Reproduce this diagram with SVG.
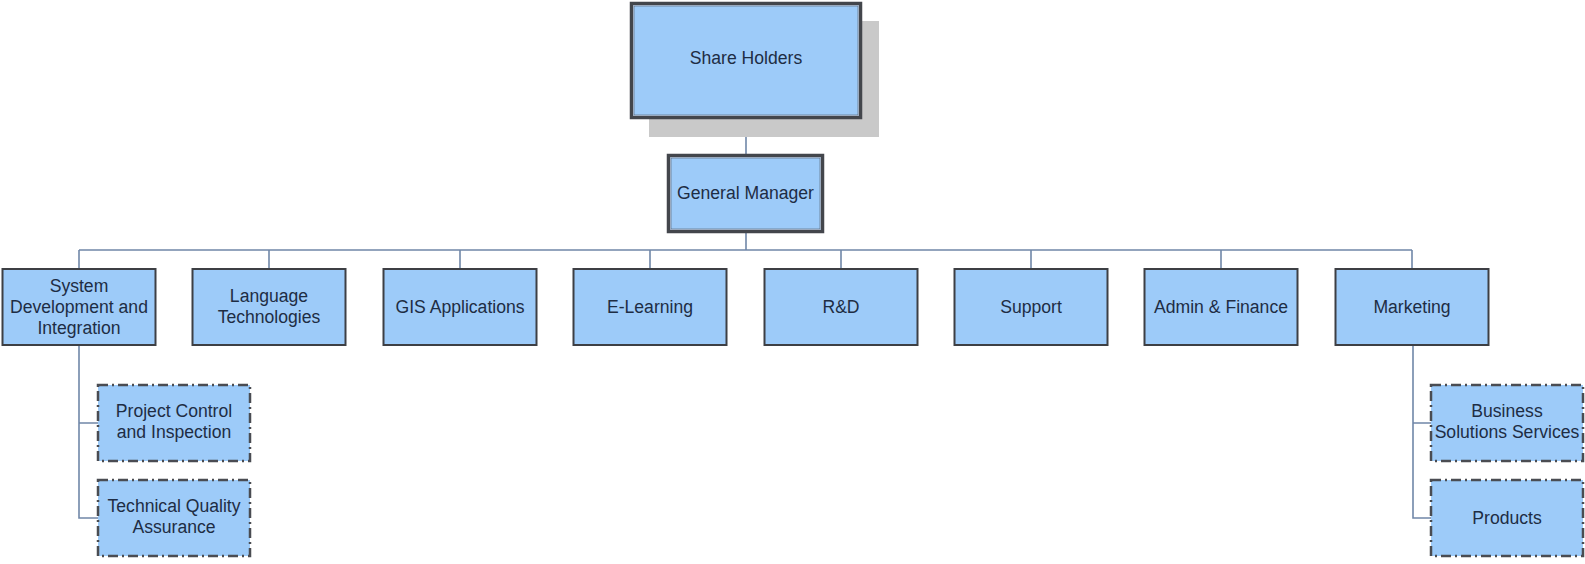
<svg xmlns="http://www.w3.org/2000/svg" width="1585" height="564" viewBox="0 0 1585 564">
<style>
.box{fill:#9dcbf9;stroke:#3d3f44;stroke-width:2}
.dbl{fill:#9dcbf9;stroke:#43464c;stroke-width:4.5}
.dblin{fill:none;stroke:#9aaabf;stroke-width:1}
.sub{fill:#9dcbf9;stroke:#4a4c52;stroke-width:2.5;stroke-dasharray:10 4 2 4}
.shadow{fill:#c9c9c9}
.t{font-family:"Liberation Sans",Arial,sans-serif;font-size:17.6px;fill:#1e2d44;text-anchor:middle}
.c{fill:none;stroke:#7087a8;stroke-width:1.6}
</style>
<rect width="1585" height="564" fill="#ffffff"/>
<g id="connectors">
<path class="c" d="M746 118V155M746 232V250M79 250H1412"/>
<path class="c" d="M79 250V269M269 250V269M460 250V269M650 250V269M841 250V269M1031 250V269M1221 250V269M1412 250V269"/>
<path class="c" d="M79 345V518H98M79 423H98"/>
<path class="c" d="M1413 345V518H1431M1413 423H1431"/>
</g>
<g id="share-holders">
<rect class="shadow" x="649" y="21" width="230" height="116"/>
<rect class="dbl" x="632" y="4" width="228" height="113"/>
<rect class="dblin" x="633.5" y="5.5" width="225" height="110"/>
<text class="t" x="746" y="64">Share Holders</text>
</g>
<g id="general-manager">
<rect class="dbl" x="669" y="156" width="153" height="75"/>
<rect class="dblin" x="670.5" y="157.5" width="150" height="72"/>
<text class="t" x="745.5" y="199">General Manager</text>
</g>
<g id="system-development">
<rect class="box" x="2.5" y="269" width="153" height="76"/>
<text class="t" x="79" y="292">System</text>
<text class="t" x="79" y="313">Development and</text>
<text class="t" x="79" y="334">Integration</text>
</g>
<g id="language-technologies">
<rect class="box" x="192.5" y="269" width="153" height="76"/>
<text class="t" x="269" y="302">Language</text>
<text class="t" x="269" y="323">Technologies</text>
</g>
<g id="gis-applications">
<rect class="box" x="383.5" y="269" width="153" height="76"/>
<text class="t" x="460" y="313">GIS Applications</text>
</g>
<g id="e-learning">
<rect class="box" x="573.5" y="269" width="153" height="76"/>
<text class="t" x="650" y="313">E-Learning</text>
</g>
<g id="rnd">
<rect class="box" x="764.5" y="269" width="153" height="76"/>
<text class="t" x="841" y="313">R&amp;D</text>
</g>
<g id="support">
<rect class="box" x="954.5" y="269" width="153" height="76"/>
<text class="t" x="1031" y="313">Support</text>
</g>
<g id="admin-finance">
<rect class="box" x="1144.5" y="269" width="153" height="76"/>
<text class="t" x="1221" y="313">Admin &amp; Finance</text>
</g>
<g id="marketing">
<rect class="box" x="1335.5" y="269" width="153" height="76"/>
<text class="t" x="1412" y="313">Marketing</text>
</g>
<g id="project-control">
<rect class="sub" x="98" y="385" width="152" height="76"/>
<text class="t" x="174" y="417">Project Control</text>
<text class="t" x="174" y="438">and Inspection</text>
</g>
<g id="technical-quality">
<rect class="sub" x="98" y="480" width="152" height="76"/>
<text class="t" x="174" y="512">Technical Quality</text>
<text class="t" x="174" y="533">Assurance</text>
</g>
<g id="business-solutions">
<rect class="sub" x="1431" y="385" width="152" height="76"/>
<text class="t" x="1507" y="417">Business</text>
<text class="t" x="1507" y="438">Solutions Services</text>
</g>
<g id="products">
<rect class="sub" x="1431" y="480" width="152" height="76"/>
<text class="t" x="1507" y="524">Products</text>
</g>
</svg>
